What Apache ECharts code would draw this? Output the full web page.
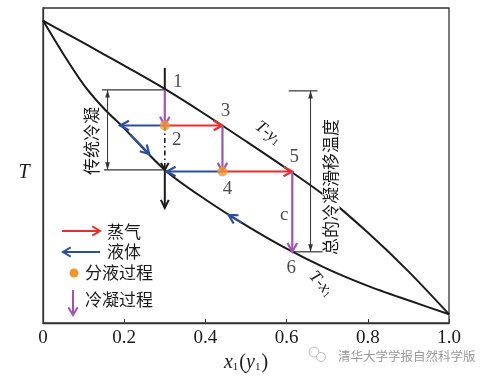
<!DOCTYPE html>
<html><head><meta charset="utf-8">
<script src="https://cdn.jsdelivr.net/npm/echarts@6/dist/echarts.min.js"></script>
<style>html,body{margin:0;padding:0;background:#fff}#c{width:485px;height:379px}</style>
</head><body><div id="c"></div>
<script>
// ---- data ----
const xTicks = [0, 0.2, 0.4, 0.6, 0.8, 1.0];
const curveX = [0, 0.05, 0.1, 0.15, 0.2, 0.3, 0.4, 0.5, 0.6, 0.7, 0.8, 0.9, 1.0];
const dewT = [0.960, 0.924, 0.889, 0.853, 0.817, 0.743, 0.662, 0.577, 0.490, 0.398, 0.287, 0.164, 0.028];    // T-y1
const bubbleT = [0.960, 0.854, 0.757, 0.681, 0.618, 0.486, 0.392, 0.310, 0.236, 0.172, 0.118, 0.072, 0.028]; // T-x1
const stageNames = ['1', '2', '3', '4', '5', '6'];
const stageX = [0.300, 0.300, 0.442, 0.442, 0.614, 0.614];
const stageY = [0.740, 0.627, 0.627, 0.481, 0.481, 0.226];
const vaporSteps = [[1, 2], [3, 4]];          // stage index pairs
const condenseSteps = [[0, 1], [2, 3], [4, 5]];
const separatorStages = [1, 3];
const liquidTo = [[1, 0.190], [3, 0.305]];     // from stage -> x on T-x1 at same T
const liquidAlongCurve = [[0.215, 0.598, 0.262, 0.536], [0.490, 0.318, 0.457, 0.343]];
const conventionalRange = { x: 0.159, top: 0.740, bottom: 0.486, barFrom: [0.145, 0.150] };
const totalGlide = { x: 0.659, top: 0.737, bottom: 0.226, topBar: [0.605, 0.676], bottomBar: [0.614, 0.691] };
const refLine = { x: 0.300, top: 0.810, dashFrom: 0.627, dashTo: 0.486, bottom: 0.365 };
const cLabel = { x: 0.614, y: 0.343, text: 'c' };
const legendItems = ['蒸气', '液体', '分液过程', '冷凝过程'];

// ---- colours / styles ----
const RED = '#e5302c', BLUE = '#2b4ea2', PURPLE = '#a254b4', ORANGE = '#f1962f', INK = '#1a1a1a';
const SERIF = '"Liberation Serif", "DejaVu Serif", serif';
const CJK = '"Noto Sans CJK SC", sans-serif';
const labelOffsets = [[13, -8], [12, 15], [3, -14], [5, 18], [2, -14], [-1, 16]];

function arrowRender(o) {
  return function (params, api) {
    const a = api.coord([api.value(0), api.value(1)]);
    const b = api.coord([api.value(2), api.value(3)]);
    const ang = Math.atan2(b[1] - a[1], b[0] - a[0]);
    const children = [{
      type: 'line', shape: { x1: a[0], y1: a[1], x2: b[0], y2: b[1] },
      style: { stroke: o.color, lineWidth: o.width, lineDash: o.dash || null }
    }];
    const head = (p, dir) => {
      const L = o.head, th = o.angle;
      const p1 = [p[0] - L * Math.cos(dir - th), p[1] - L * Math.sin(dir - th)];
      const p2 = [p[0] - L * Math.cos(dir + th), p[1] - L * Math.sin(dir + th)];
      if (o.filled) return { type: 'polygon', shape: { points: [p1, p, p2] }, style: { fill: o.color } };
      return { type: 'polyline', shape: { points: [p1, p, p2] }, style: { stroke: o.color, lineWidth: o.headWidth || o.width, fill: null } };
    };
    if (o.end) children.push(head(b, ang));
    if (o.start) children.push(head(a, ang + Math.PI));
    return { type: 'group', children };
  };
}
function arrowSeries(data, o, z) {
  return {
    type: 'custom', coordinateSystem: 'cartesian2d', renderItem: arrowRender(o), data: data,
    encode: { x: [0, 2], y: [1, 3] }, clip: false, z: z || 5, silent: true
  };
}

const curveDew = curveX.map((x, i) => [x, dewT[i]]);
const curveBubble = curveX.map((x, i) => [x, bubbleT[i]]);
const vaporData = vaporSteps.map(([i, j]) => [stageX[i], stageY[i], stageX[j], stageY[j]]);
const condenseData = condenseSteps.map(([i, j]) => [stageX[i], stageY[i], stageX[j], stageY[j]]);
const liquidData = liquidTo.map(([i, x]) => [stageX[i], stageY[i], x, stageY[i]]).concat(liquidAlongCurve);
const guideDouble = [
  [conventionalRange.x, conventionalRange.top, conventionalRange.x, conventionalRange.bottom],
  [totalGlide.x, totalGlide.top, totalGlide.x, totalGlide.bottom]
];
const guideBars = [
  [conventionalRange.barFrom[0], conventionalRange.top, refLine.x, conventionalRange.top],
  [conventionalRange.barFrom[1], conventionalRange.bottom, refLine.x, conventionalRange.bottom],
  [totalGlide.topBar[0], totalGlide.top, totalGlide.topBar[1], totalGlide.top],
  [totalGlide.bottomBar[0], totalGlide.bottom, totalGlide.bottomBar[1], totalGlide.bottom]
];

function legendArrow(x1, y1, x2, y2, color) {
  const ang = Math.atan2(y2 - y1, x2 - x1), L = 9, th = 0.55;
  return {
    type: 'group', children: [
      { type: 'line', shape: { x1, y1, x2, y2 }, style: { stroke: color, lineWidth: 2 } },
      { type: 'polyline', shape: { points: [[x2 - L * Math.cos(ang - th), y2 - L * Math.sin(ang - th)], [x2, y2], [x2 - L * Math.cos(ang + th), y2 - L * Math.sin(ang + th)]] }, style: { stroke: color, lineWidth: 2, fill: null } }
    ]
  };
}
function txt(x, y, text) {
  return { type: 'text', x, y, style: { text, fill: INK, fontFamily: CJK, fontSize: 17, align: 'left', verticalAlign: 'middle' } };
}
const richCurve = {
  i: { fontFamily: SERIF, fontStyle: 'italic', fontSize: 17, fill: INK },
  n: { fontFamily: SERIF, fontSize: 17, fill: INK },
  s: { fontFamily: SERIF, fontSize: 10, fill: INK, verticalAlign: 'bottom' }
};

const chart = echarts.init(document.getElementById('c'), null, { renderer: 'canvas' });
chart.setOption({
  animation: false,
  backgroundColor: '#fff',
  grid: { left: 43, right: 36, top: 8, bottom: 56, show: true, borderColor: '#333', borderWidth: 1.3 },
  xAxis: {
    type: 'value', min: 0, max: 1, interval: 0.2,
    axisLine: { show: true, lineStyle: { color: '#333', width: 1.3 } },
    axisTick: { show: true, inside: true, length: 4, lineStyle: { color: '#333' } },
    splitLine: { show: false },
    axisLabel: {
      margin: 6, color: INK, fontFamily: SERIF, fontSize: 19,
      formatter: v => { const t = xTicks.find(k => Math.abs(k - v) < 1e-9); return t === 0 ? '0' : t.toFixed(1); }
    },
    name: '{i|x}{s|1}{n|(}{i|y}{s|1}{n|)}', nameLocation: 'middle', nameGap: 30,
    nameTextStyle: {
      rich: {
        i: { fontFamily: SERIF, fontStyle: 'italic', fontSize: 20, color: INK },
        n: { fontFamily: SERIF, fontSize: 20, color: INK },
        s: { fontFamily: SERIF, fontSize: 11, color: INK, verticalAlign: 'bottom', padding: [0, 1, 0, 0] }
      }
    }
  },
  yAxis: {
    type: 'value', min: 0, max: 1,
    axisLine: { show: true, lineStyle: { color: '#333', width: 1.3 } },
    axisTick: { show: false }, axisLabel: { show: false }, splitLine: { show: false }
  },
  series: [
    { type: 'line', data: curveDew, smooth: 0.3, showSymbol: false, symbol: 'none', lineStyle: { color: INK, width: 2 }, z: 3, silent: true },
    { type: 'line', data: curveBubble, smooth: 0.3, showSymbol: false, symbol: 'none', lineStyle: { color: INK, width: 2 }, z: 3, silent: true },
    // reference vertical line at x = 0.3
    arrowSeries([[refLine.x, refLine.top, stageX[0], stageY[0]]], { color: INK, width: 2 }, 4),
    arrowSeries([[refLine.x, refLine.dashFrom, refLine.x, refLine.dashTo]], { color: INK, width: 1.6, dash: [5, 3, 1.5, 3], end: true, head: 8, angle: 0.5, headWidth: 2 }, 4),
    arrowSeries([[refLine.x, refLine.dashTo, refLine.x, refLine.bottom]], { color: INK, width: 2, end: true, head: 9, angle: 0.45 }, 4),
    // guides
    arrowSeries(guideBars, { color: '#333', width: 1.2 }, 4),
    arrowSeries(guideDouble, { color: '#333', width: 1, end: true, start: true, filled: true, head: 8, angle: 0.3 }, 4),
    // process arrows
    arrowSeries(vaporData, { color: RED, width: 2.2, end: true, head: 10, angle: 0.5 }, 6),
    arrowSeries(liquidData, { color: BLUE, width: 2.2, end: true, head: 10, angle: 0.5 }, 6),
    arrowSeries(condenseData, { color: PURPLE, width: 2.2, end: true, head: 10, angle: 0.5 }, 6),
    {
      type: 'scatter', data: separatorStages.map(i => [stageX[i], stageY[i]]), symbolSize: 10,
      itemStyle: { color: ORANGE }, z: 8, silent: true
    },
    {
      type: 'scatter', symbolSize: 0, z: 9, silent: true,
      data: stageNames.map((n, i) => ({
        value: [stageX[i], stageY[i]],
        label: { show: true, formatter: n, position: 'inside', offset: labelOffsets[i], fontFamily: SERIF, fontSize: 19, color: INK }
      })).concat([{
        value: [cLabel.x, cLabel.y],
        label: { show: true, formatter: cLabel.text, position: 'inside', offset: [-8, 0], fontFamily: SERIF, fontSize: 19, color: INK }
      }])
    }
  ],
  graphic: [
    { type: 'text', x: 24, y: 173, style: { text: 'T', fontFamily: SERIF, fontStyle: 'italic', fontSize: 20, fill: INK, align: 'center', verticalAlign: 'middle' } },
    { type: 'text', x: 92, y: 141, rotation: Math.PI / 2, style: { text: '传统冷凝', fontFamily: CJK, fontSize: 17, fill: INK, align: 'center', verticalAlign: 'middle' } },
    { type: 'text', x: 331, y: 187, rotation: Math.PI / 2, z: 10, style: { text: '总的冷凝滑移温度', fontFamily: CJK, fontSize: 17, fill: INK, align: 'center', verticalAlign: 'middle', backgroundColor: '#fff', padding: [0, 1] } },
    { type: 'text', x: 268, y: 133, rotation: -0.66, style: { text: '{i|T}{n|-}{i|y}{s|1}', align: 'center', verticalAlign: 'middle', rich: richCurve } },
    { type: 'text', x: 321, y: 284, rotation: -0.85, style: { text: '{i|T}{n|-}{i|x}{s|1}', align: 'center', verticalAlign: 'middle', rich: richCurve } },
    // legend
    legendArrow(62, 231, 100, 231, RED),
    legendArrow(100, 252, 63, 252, BLUE),
    { type: 'circle', shape: { cx: 74, cy: 273, r: 4.5 }, style: { fill: ORANGE } },
    legendArrow(73, 290, 73, 315, PURPLE),
    txt(107, 232, legendItems[0]),
    txt(107, 252, legendItems[1]),
    txt(85, 273, legendItems[2]),
    txt(85, 300, legendItems[3]),
    // watermark
    { type: 'circle', shape: { cx: 314, cy: 352, r: 5 }, style: { fill: null, stroke: '#bbb', lineWidth: 1 } },
    { type: 'circle', shape: { cx: 321, cy: 357, r: 4.5 }, style: { fill: '#fff', stroke: '#bbb', lineWidth: 1 } },
    { type: 'text', x: 338, y: 356, style: { text: '清华大学学报自然科学版', fontFamily: CJK, fontSize: 12.5, fill: '#999', align: 'left', verticalAlign: 'middle' } }
  ]
});
</script>
</body></html>
